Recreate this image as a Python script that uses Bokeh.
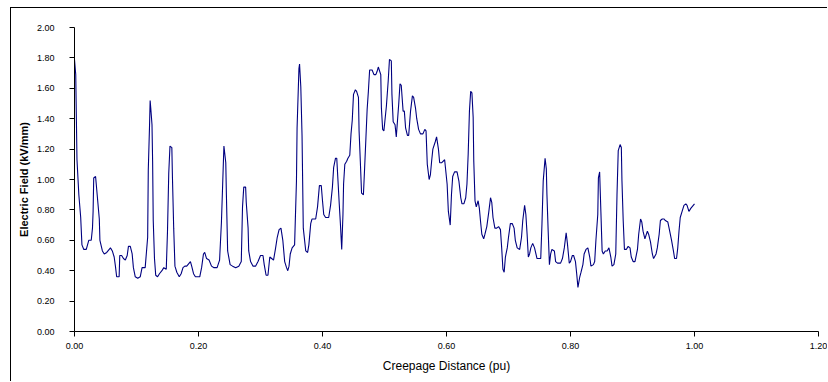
from bokeh.plotting import figure
from bokeh.models import Range1d, FixedTicker, NumeralTickFormatter
from bokeh.embed import file_html
from bokeh.resources import INLINE

# Creepage distance (pu) and electric field (kV/mm) in segments
seg1_x = [0.000,0.002,0.003,0.004,0.007,0.010,0.012,0.015,0.019,0.023,0.027,0.029,0.030,0.031,0.034,0.037,0.040,0.041,0.045,0.048,
          0.052,0.056,0.058,0.061,0.064,0.066,0.068,0.072,0.073,0.076,0.079,0.082,0.085,0.087,0.090,0.093,0.095,0.098,0.102,0.106,
          0.109,0.114,0.118,0.119,0.121,0.122,0.123,0.125,0.126,0.127,0.129,0.131,0.134,0.137,0.141,0.144,0.148,0.150,0.152,0.154,
          0.157,0.158,0.160,0.162,0.165,0.169,0.172,0.175,0.178,0.181,0.185,0.187,0.189,0.192,0.195]
seg1_y = [1.79,1.69,1.41,1.13,0.90,0.75,0.57,0.54,0.54,0.60,0.60,0.68,0.79,1.01,1.02,0.88,0.74,0.60,0.53,0.51,
          0.52,0.54,0.55,0.53,0.49,0.43,0.36,0.36,0.50,0.50,0.48,0.47,0.50,0.56,0.56,0.51,0.42,0.36,0.35,0.36,
          0.42,0.42,0.62,1.06,1.35,1.52,1.47,1.36,1.12,0.73,0.48,0.37,0.36,0.38,0.40,0.42,0.41,0.66,1.04,1.22,
          1.21,1.01,0.68,0.43,0.39,0.36,0.38,0.42,0.43,0.43,0.45,0.46,0.43,0.38,0.36]

seg2_x = [0.198,0.202,0.205,0.208,0.210,0.213,0.217,0.221,0.225,0.230,0.234,0.237,0.239,0.241,0.244,0.245,0.247,0.251,0.255,0.260,
          0.265,0.269,0.271,0.273,0.276,0.277,0.280,0.281,0.284,0.288,0.292,0.296,0.300,0.304,0.306,0.309,0.312,0.315,0.318,0.321,
          0.324,0.327,0.330,0.333,0.336,0.339,0.342,0.344,0.346,0.348,0.351,0.355,0.358,0.359,0.362,0.363,0.365,0.367,0.369,0.373,
          0.376,0.378,0.381,0.383,0.389,0.392,0.395,0.398]
seg2_y = [0.36,0.36,0.42,0.51,0.52,0.48,0.47,0.43,0.42,0.42,0.47,0.72,0.97,1.22,1.11,0.90,0.53,0.44,0.43,0.42,
          0.43,0.46,0.82,0.95,0.95,0.85,0.68,0.53,0.46,0.43,0.43,0.46,0.50,0.50,0.44,0.37,0.37,0.49,0.48,0.47,
          0.54,0.62,0.67,0.68,0.60,0.46,0.42,0.40,0.43,0.51,0.55,0.57,0.99,1.34,1.73,1.76,1.61,1.29,0.68,0.53,
          0.52,0.57,0.71,0.74,0.74,0.82,0.96,0.96]

seg3_x = [0.400,0.402,0.405,0.410,0.413,0.416,0.418,0.421,0.423,0.425,0.427,0.429,0.431,0.433,0.434,0.436,0.439,0.441,0.444,0.446,
          0.448,0.450,0.453,0.455,0.458,0.459,0.461,0.463,0.466,0.468,0.470,0.472,0.474,0.476,0.480,0.483,0.486,0.488,0.490,0.494,
          0.495,0.497,0.499,0.501,0.503,0.506,0.508,0.511,0.512,0.514,0.517,0.519,0.521,0.523,0.525,0.527,0.530,0.532,0.534,0.537,
          0.539,0.542,0.545,0.547,0.550,0.552,0.555,0.558,0.562,0.565,0.567,0.569,0.572,0.574,0.576,0.578,0.582,0.584,0.587,0.589,
          0.592,0.597]
seg3_y = [0.86,0.77,0.75,0.75,0.83,0.95,1.08,1.14,1.14,0.99,0.84,0.70,0.54,0.77,0.97,1.10,1.12,1.14,1.16,1.30,
          1.39,1.56,1.59,1.58,1.54,1.32,1.12,0.91,0.90,1.08,1.27,1.46,1.58,1.72,1.72,1.69,1.69,1.71,1.74,1.69,
          1.47,1.33,1.32,1.40,1.48,1.65,1.79,1.78,1.56,1.38,1.36,1.28,1.39,1.50,1.63,1.62,1.45,1.45,1.34,1.29,
          1.29,1.45,1.55,1.54,1.47,1.40,1.33,1.30,1.30,1.33,1.32,1.10,1.00,1.03,1.12,1.20,1.25,1.28,1.20,1.11,
          1.11,1.13]

seg4_x = [0.601,0.603,0.606,0.608,0.610,0.613,0.617,0.620,0.623,0.625,0.628,0.631,0.633,0.635,0.637,0.639,0.641,0.643,0.644,0.646,
          0.648,0.651,0.653,0.655,0.657,0.660,0.662,0.665,0.668,0.671,0.673,0.675,0.678,0.681,0.684,0.687,0.689,0.691,0.693,0.695,
          0.698,0.700,0.703,0.706,0.709,0.711,0.714,0.718,0.721,0.723,0.726,0.728,0.730,0.732,0.734,0.736,0.739,0.742,0.746,0.749,
          0.752,0.754,0.756,0.759,0.761,0.762,0.764,0.766,0.768,0.770,0.774,0.776,0.779,0.784,0.787,0.790,0.793,0.795,0.798]
seg4_y = [0.97,0.79,0.70,0.90,1.02,1.05,1.05,0.99,0.88,0.84,0.84,0.88,0.97,1.17,1.45,1.58,1.57,1.41,1.12,0.86,
          0.82,0.86,0.81,0.72,0.64,0.61,0.64,0.69,0.78,0.88,0.85,0.75,0.68,0.68,0.69,0.67,0.55,0.41,0.39,0.49,
          0.55,0.62,0.71,0.71,0.68,0.60,0.55,0.54,0.62,0.73,0.83,0.77,0.64,0.49,0.51,0.55,0.58,0.55,0.48,0.48,
          0.48,0.71,0.99,1.14,1.07,0.90,0.66,0.44,0.51,0.54,0.53,0.46,0.45,0.45,0.48,0.55,0.65,0.58,0.45]

seg5_x = [0.800,0.803,0.805,0.808,0.810,0.812,0.815,0.817,0.820,0.822,0.825,0.828,0.831,0.833,0.837,0.839,0.841,0.844,0.845,0.847,
          0.849,0.851,0.853,0.856,0.859,0.862,0.865,0.867,0.870,0.873,0.875,0.877,0.880,0.882,0.883,0.885,0.887,0.890,0.893,0.896,
          0.898,0.901,0.904,0.908,0.910,0.913,0.915,0.917,0.920,0.924,0.926,0.929,0.932,0.934,0.938,0.940,0.943,0.945,0.948,0.951,
          0.953,0.957,0.960,0.963,0.966,0.968,0.971,0.973,0.975,0.977,0.980,0.983,0.986,0.988,0.991,0.994,0.996,1.000]
seg5_y = [0.46,0.50,0.50,0.46,0.38,0.29,0.36,0.39,0.44,0.51,0.54,0.55,0.49,0.43,0.44,0.46,0.60,0.77,1.01,1.05,
          0.79,0.53,0.51,0.53,0.53,0.55,0.49,0.43,0.44,0.51,0.90,1.19,1.23,1.21,0.99,0.73,0.54,0.54,0.56,0.55,
          0.49,0.46,0.46,0.54,0.64,0.74,0.72,0.66,0.61,0.66,0.64,0.59,0.51,0.48,0.51,0.55,0.64,0.73,0.74,0.74,
          0.73,0.72,0.66,0.60,0.53,0.48,0.48,0.55,0.66,0.75,0.79,0.83,0.84,0.83,0.79,0.81,0.82,0.84]

x_ticks = [0.0, 0.2, 0.4, 0.6, 0.8, 1.0, 1.2]
y_ticks = [0.0, 0.2, 0.4, 0.6, 0.8, 1.0, 1.2, 1.4, 1.6, 1.8, 2.0]
x_title = "Creepage Distance (pu)"
y_title = "Electric Field (kV/mm)"

xs = seg1_x + seg2_x + seg3_x + seg4_x + seg5_x
ys = seg1_y + seg2_y + seg3_y + seg4_y + seg5_y

p = figure(width=817, height=374, output_backend="svg", toolbar_location=None,
           x_range=Range1d(0, 1.2), y_range=Range1d(0, 2.0),
           min_border_left=63, min_border_right=10, min_border_top=19, min_border_bottom=51)
p.styles = {"margin-left": "10px", "margin-top": "7px",
            "border-left": "1px solid #000000", "border-top": "1px solid #000000"}
p.outline_line_color = None
p.xgrid.visible = False
p.ygrid.visible = False
p.background_fill_color = "white"
p.border_fill_color = "white"

p.line(xs, ys, line_color="#000080", line_width=1.1)

for ax in (p.xaxis[0], p.yaxis[0]):
    ax.axis_line_color = "#000000"
    ax.axis_line_width = 1
    ax.major_tick_line_color = "#000000"
    ax.major_tick_in = 0
    ax.major_tick_out = 5
    ax.minor_tick_line_color = None
    ax.formatter = NumeralTickFormatter(format="0.00")
    ax.major_label_text_font = "Liberation Sans"
    ax.major_label_text_font_size = "9px"
    ax.major_label_text_color = "#000000"
    ax.axis_label_text_font = "Liberation Sans"
    ax.axis_label_text_color = "#000000"
    ax.axis_label_text_font_style = "normal"

p.xaxis[0].ticker = FixedTicker(ticks=x_ticks)
p.yaxis[0].ticker = FixedTicker(ticks=y_ticks)
p.xaxis[0].axis_label = x_title
p.yaxis[0].axis_label = y_title
p.xaxis[0].axis_label_text_font_size = "12px"
p.yaxis[0].axis_label_text_font_size = "11px"
p.yaxis[0].axis_label_text_font_style = "bold"
p.xaxis[0].major_label_standoff = 6
p.yaxis[0].major_label_standoff = 15
p.xaxis[0].axis_label_standoff = 7
p.yaxis[0].axis_label_standoff = 4

open("out.html", "w").write(file_html(p, INLINE))
